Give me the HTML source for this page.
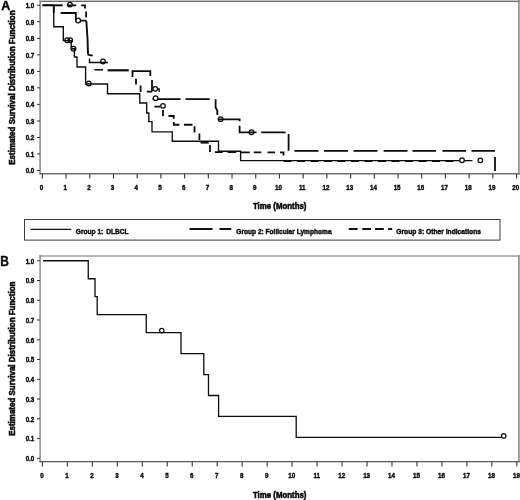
<!DOCTYPE html>
<html><head><meta charset="utf-8"><title>Figure</title>
<style>html,body{margin:0;padding:0;background:#fff;}body{width:520px;height:500px;overflow:hidden;font-family:"Liberation Sans",sans-serif;}svg{display:block;will-change:transform;}text{font-family:"Liberation Sans",sans-serif;font-weight:bold;fill:#0a0a0a;stroke:#0a0a0a;stroke-width:0.45px;}</style>
</head><body>
<svg width="520" height="500" viewBox="0 0 520 500">
<rect x="0" y="0" width="520" height="500" fill="#fff"/>
<rect x="39.4" y="0" width="480.6" height="1" fill="#c4c4c4"/><rect x="39.4" y="1" width="480.6" height="1" fill="#6a6a6a"/>
<path d="M518.9,0 V174.5" stroke="#8a8a8a" stroke-width="1.6" fill="none"/>
<path d="M40.1,0.8 V174.5" stroke="#858585" stroke-width="1.5" fill="none"/>
<path d="M39.4,173.8 H519.6" stroke="#707070" stroke-width="1.5" fill="none"/>
<path d="M39.5,256 H519.6" stroke="#707070" stroke-width="1.1" fill="none"/>
<path d="M518.9,255 V462.2" stroke="#8a8a8a" stroke-width="1.6" fill="none"/>
<path d="M40.1,255.3 V462.2" stroke="#7a7a7a" stroke-width="1.3" fill="none"/>
<path d="M39.5,461.6 H519.6" stroke="#5a5a5a" stroke-width="1.3" fill="none"/>
<path d="M37,170.50 H40" stroke="#333" stroke-width="1"/>
<text transform="translate(34.30,173.25) scale(0.82,1)" font-size="7.6" text-anchor="end" >0.0</text>
<path d="M37,153.97 H40" stroke="#333" stroke-width="1"/>
<text transform="translate(34.30,156.72) scale(0.82,1)" font-size="7.6" text-anchor="end" >0.1</text>
<path d="M37,137.45 H40" stroke="#333" stroke-width="1"/>
<text transform="translate(34.30,140.20) scale(0.82,1)" font-size="7.6" text-anchor="end" >0.2</text>
<path d="M37,120.92 H40" stroke="#333" stroke-width="1"/>
<text transform="translate(34.30,123.67) scale(0.82,1)" font-size="7.6" text-anchor="end" >0.3</text>
<path d="M37,104.40 H40" stroke="#333" stroke-width="1"/>
<text transform="translate(34.30,107.15) scale(0.82,1)" font-size="7.6" text-anchor="end" >0.4</text>
<path d="M37,87.88 H40" stroke="#333" stroke-width="1"/>
<text transform="translate(34.30,90.62) scale(0.82,1)" font-size="7.6" text-anchor="end" >0.5</text>
<path d="M37,71.35 H40" stroke="#333" stroke-width="1"/>
<text transform="translate(34.30,74.10) scale(0.82,1)" font-size="7.6" text-anchor="end" >0.6</text>
<path d="M37,54.83 H40" stroke="#333" stroke-width="1"/>
<text transform="translate(34.30,57.58) scale(0.82,1)" font-size="7.6" text-anchor="end" >0.7</text>
<path d="M37,38.30 H40" stroke="#333" stroke-width="1"/>
<text transform="translate(34.30,41.05) scale(0.82,1)" font-size="7.6" text-anchor="end" >0.8</text>
<path d="M37,21.77 H40" stroke="#333" stroke-width="1"/>
<text transform="translate(34.30,24.52) scale(0.82,1)" font-size="7.6" text-anchor="end" >0.9</text>
<path d="M37,5.25 H40" stroke="#333" stroke-width="1"/>
<text transform="translate(34.30,8.00) scale(0.82,1)" font-size="7.6" text-anchor="end" >1.0</text>
<path d="M42.35,174 V178.4" stroke="#333" stroke-width="1.1"/>
<text transform="translate(41.45,189.75) scale(0.82,1)" font-size="7.6" text-anchor="middle" >0</text>
<path d="M66.06,174 V178.4" stroke="#333" stroke-width="1.1"/>
<text transform="translate(65.16,189.75) scale(0.82,1)" font-size="7.6" text-anchor="middle" >1</text>
<path d="M89.77,174 V178.4" stroke="#333" stroke-width="1.1"/>
<text transform="translate(88.87,189.75) scale(0.82,1)" font-size="7.6" text-anchor="middle" >2</text>
<path d="M113.48,174 V178.4" stroke="#333" stroke-width="1.1"/>
<text transform="translate(112.58,189.75) scale(0.82,1)" font-size="7.6" text-anchor="middle" >3</text>
<path d="M137.19,174 V178.4" stroke="#333" stroke-width="1.1"/>
<text transform="translate(136.29,189.75) scale(0.82,1)" font-size="7.6" text-anchor="middle" >4</text>
<path d="M160.90,174 V178.4" stroke="#333" stroke-width="1.1"/>
<text transform="translate(160.00,189.75) scale(0.82,1)" font-size="7.6" text-anchor="middle" >5</text>
<path d="M184.61,174 V178.4" stroke="#333" stroke-width="1.1"/>
<text transform="translate(183.71,189.75) scale(0.82,1)" font-size="7.6" text-anchor="middle" >6</text>
<path d="M208.32,174 V178.4" stroke="#333" stroke-width="1.1"/>
<text transform="translate(207.42,189.75) scale(0.82,1)" font-size="7.6" text-anchor="middle" >7</text>
<path d="M232.03,174 V178.4" stroke="#333" stroke-width="1.1"/>
<text transform="translate(231.13,189.75) scale(0.82,1)" font-size="7.6" text-anchor="middle" >8</text>
<path d="M255.74,174 V178.4" stroke="#333" stroke-width="1.1"/>
<text transform="translate(254.84,189.75) scale(0.82,1)" font-size="7.6" text-anchor="middle" >9</text>
<path d="M279.45,174 V178.4" stroke="#333" stroke-width="1.1"/>
<text transform="translate(278.55,189.75) scale(0.82,1)" font-size="7.6" text-anchor="middle" >10</text>
<path d="M303.16,174 V178.4" stroke="#333" stroke-width="1.1"/>
<text transform="translate(302.26,189.75) scale(0.82,1)" font-size="7.6" text-anchor="middle" >11</text>
<path d="M326.87,174 V178.4" stroke="#333" stroke-width="1.1"/>
<text transform="translate(325.97,189.75) scale(0.82,1)" font-size="7.6" text-anchor="middle" >12</text>
<path d="M350.58,174 V178.4" stroke="#333" stroke-width="1.1"/>
<text transform="translate(349.68,189.75) scale(0.82,1)" font-size="7.6" text-anchor="middle" >13</text>
<path d="M374.29,174 V178.4" stroke="#333" stroke-width="1.1"/>
<text transform="translate(373.39,189.75) scale(0.82,1)" font-size="7.6" text-anchor="middle" >14</text>
<path d="M398.00,174 V178.4" stroke="#333" stroke-width="1.1"/>
<text transform="translate(397.10,189.75) scale(0.82,1)" font-size="7.6" text-anchor="middle" >15</text>
<path d="M421.71,174 V178.4" stroke="#333" stroke-width="1.1"/>
<text transform="translate(420.81,189.75) scale(0.82,1)" font-size="7.6" text-anchor="middle" >16</text>
<path d="M445.42,174 V178.4" stroke="#333" stroke-width="1.1"/>
<text transform="translate(444.52,189.75) scale(0.82,1)" font-size="7.6" text-anchor="middle" >17</text>
<path d="M469.13,174 V178.4" stroke="#333" stroke-width="1.1"/>
<text transform="translate(468.23,189.75) scale(0.82,1)" font-size="7.6" text-anchor="middle" >18</text>
<path d="M492.84,174 V178.4" stroke="#333" stroke-width="1.1"/>
<text transform="translate(491.94,189.75) scale(0.82,1)" font-size="7.6" text-anchor="middle" >19</text>
<path d="M516.55,174 V178.4" stroke="#333" stroke-width="1.1"/>
<text transform="translate(515.65,189.75) scale(0.82,1)" font-size="7.6" text-anchor="middle" >20</text>
<path d="M37,458.35 H40" stroke="#333" stroke-width="1"/>
<text transform="translate(34.30,461.10) scale(0.82,1)" font-size="7.6" text-anchor="end" >0.0</text>
<path d="M37,438.59 H40" stroke="#333" stroke-width="1"/>
<text transform="translate(34.30,441.34) scale(0.82,1)" font-size="7.6" text-anchor="end" >0.1</text>
<path d="M37,418.83 H40" stroke="#333" stroke-width="1"/>
<text transform="translate(34.30,421.58) scale(0.82,1)" font-size="7.6" text-anchor="end" >0.2</text>
<path d="M37,399.07 H40" stroke="#333" stroke-width="1"/>
<text transform="translate(34.30,401.82) scale(0.82,1)" font-size="7.6" text-anchor="end" >0.3</text>
<path d="M37,379.31 H40" stroke="#333" stroke-width="1"/>
<text transform="translate(34.30,382.06) scale(0.82,1)" font-size="7.6" text-anchor="end" >0.4</text>
<path d="M37,359.55 H40" stroke="#333" stroke-width="1"/>
<text transform="translate(34.30,362.30) scale(0.82,1)" font-size="7.6" text-anchor="end" >0.5</text>
<path d="M37,339.79 H40" stroke="#333" stroke-width="1"/>
<text transform="translate(34.30,342.54) scale(0.82,1)" font-size="7.6" text-anchor="end" >0.6</text>
<path d="M37,320.03 H40" stroke="#333" stroke-width="1"/>
<text transform="translate(34.30,322.78) scale(0.82,1)" font-size="7.6" text-anchor="end" >0.7</text>
<path d="M37,300.27 H40" stroke="#333" stroke-width="1"/>
<text transform="translate(34.30,303.02) scale(0.82,1)" font-size="7.6" text-anchor="end" >0.8</text>
<path d="M37,280.51 H40" stroke="#333" stroke-width="1"/>
<text transform="translate(34.30,283.26) scale(0.82,1)" font-size="7.6" text-anchor="end" >0.9</text>
<path d="M37,260.75 H40" stroke="#333" stroke-width="1"/>
<text transform="translate(34.30,263.50) scale(0.82,1)" font-size="7.6" text-anchor="end" >1.0</text>
<path d="M42.40,462 V466.4" stroke="#333" stroke-width="1.1"/>
<text transform="translate(42.00,478.20) scale(0.82,1)" font-size="7.6" text-anchor="middle" >0</text>
<path d="M67.37,462 V466.4" stroke="#333" stroke-width="1.1"/>
<text transform="translate(66.97,478.20) scale(0.82,1)" font-size="7.6" text-anchor="middle" >1</text>
<path d="M92.34,462 V466.4" stroke="#333" stroke-width="1.1"/>
<text transform="translate(91.94,478.20) scale(0.82,1)" font-size="7.6" text-anchor="middle" >2</text>
<path d="M117.31,462 V466.4" stroke="#333" stroke-width="1.1"/>
<text transform="translate(116.91,478.20) scale(0.82,1)" font-size="7.6" text-anchor="middle" >3</text>
<path d="M142.28,462 V466.4" stroke="#333" stroke-width="1.1"/>
<text transform="translate(141.88,478.20) scale(0.82,1)" font-size="7.6" text-anchor="middle" >4</text>
<path d="M167.25,462 V466.4" stroke="#333" stroke-width="1.1"/>
<text transform="translate(166.85,478.20) scale(0.82,1)" font-size="7.6" text-anchor="middle" >5</text>
<path d="M192.22,462 V466.4" stroke="#333" stroke-width="1.1"/>
<text transform="translate(191.82,478.20) scale(0.82,1)" font-size="7.6" text-anchor="middle" >6</text>
<path d="M217.19,462 V466.4" stroke="#333" stroke-width="1.1"/>
<text transform="translate(216.79,478.20) scale(0.82,1)" font-size="7.6" text-anchor="middle" >7</text>
<path d="M242.16,462 V466.4" stroke="#333" stroke-width="1.1"/>
<text transform="translate(241.76,478.20) scale(0.82,1)" font-size="7.6" text-anchor="middle" >8</text>
<path d="M267.13,462 V466.4" stroke="#333" stroke-width="1.1"/>
<text transform="translate(266.73,478.20) scale(0.82,1)" font-size="7.6" text-anchor="middle" >9</text>
<path d="M292.10,462 V466.4" stroke="#333" stroke-width="1.1"/>
<text transform="translate(291.70,478.20) scale(0.82,1)" font-size="7.6" text-anchor="middle" >10</text>
<path d="M317.07,462 V466.4" stroke="#333" stroke-width="1.1"/>
<text transform="translate(316.67,478.20) scale(0.82,1)" font-size="7.6" text-anchor="middle" >11</text>
<path d="M342.04,462 V466.4" stroke="#333" stroke-width="1.1"/>
<text transform="translate(341.64,478.20) scale(0.82,1)" font-size="7.6" text-anchor="middle" >12</text>
<path d="M367.01,462 V466.4" stroke="#333" stroke-width="1.1"/>
<text transform="translate(366.61,478.20) scale(0.82,1)" font-size="7.6" text-anchor="middle" >13</text>
<path d="M391.98,462 V466.4" stroke="#333" stroke-width="1.1"/>
<text transform="translate(391.58,478.20) scale(0.82,1)" font-size="7.6" text-anchor="middle" >14</text>
<path d="M416.95,462 V466.4" stroke="#333" stroke-width="1.1"/>
<text transform="translate(416.55,478.20) scale(0.82,1)" font-size="7.6" text-anchor="middle" >15</text>
<path d="M441.92,462 V466.4" stroke="#333" stroke-width="1.1"/>
<text transform="translate(441.52,478.20) scale(0.82,1)" font-size="7.6" text-anchor="middle" >16</text>
<path d="M466.89,462 V466.4" stroke="#333" stroke-width="1.1"/>
<text transform="translate(466.49,478.20) scale(0.82,1)" font-size="7.6" text-anchor="middle" >17</text>
<path d="M491.86,462 V466.4" stroke="#333" stroke-width="1.1"/>
<text transform="translate(491.46,478.20) scale(0.82,1)" font-size="7.6" text-anchor="middle" >18</text>
<path d="M516.83,462 V466.4" stroke="#333" stroke-width="1.1"/>
<text transform="translate(516.43,478.20) scale(0.82,1)" font-size="7.6" text-anchor="middle" >19</text>
<text transform="translate(279.70,209.10) scale(0.925,1)" font-size="8.5" text-anchor="middle" style="stroke-width:0.55px">Time (Months)</text>
<text transform="translate(279.70,497.60) scale(0.925,1)" font-size="8.5" text-anchor="middle" style="stroke-width:0.55px">Time (Months)</text>
<text transform="translate(14.9,164.7) rotate(-90) scale(0.94,1)" font-size="8.5" text-anchor="start" style="stroke-width:0.55px">Estimated Survival Distribution Function</text>
<text transform="translate(14.9,435.8) rotate(-90) scale(0.94,1)" font-size="8.5" text-anchor="start" style="stroke-width:0.55px">Estimated Survival Distribution Function</text>
<text x="1.2" y="9.8" font-size="12.5" style="font-weight:bold;stroke-width:0.45px">A</text>
<text transform="translate(0.3,265.5) scale(0.85,1)" font-size="14" style="font-weight:bold;stroke-width:0.4px">B</text>
<rect x="24.5" y="219.5" width="475.5" height="20.6" fill="#fff" stroke="#3c3c3c" stroke-width="1"/>
<path d="M30.5,229.4 H71.3" stroke="#111" stroke-width="1.2"/>
<text transform="translate(75.80,233.65) scale(0.857,1)" font-size="7.7" text-anchor="start" >Group 1: <tspan dx="1.3">DLBCL</tspan></text>
<path d="M189.5,228.9 H212.5 M219.5,228.9 H231.3" stroke="#111" stroke-width="2.0"/>
<text transform="translate(236.30,233.65) scale(0.857,1)" font-size="7.7" text-anchor="start" >Group 2: Follicular Lymphoma</text>
<path d="M348.8,229.1 H357.6 M362.3,229.1 H371 M375.1,229.1 H383.8 M388.1,229.1 H392.2" stroke="#111" stroke-width="2.0"/>
<text transform="translate(396.30,233.65) scale(0.87,1)" font-size="7.7" text-anchor="start" >Group 3: Other Indications</text>
<path d="M42.5,5.25 H53.75 V26.7 H63.3 V40.6 H71.25 V48.75 H74.4 V57 H77 V67 H85.6 V84 H107.5 V93.75 H139.75 V103 H146.7 V113 H148.8 V121.6 H152 V131.8 H172.25 V141.25 H218.5 V151.25 H240.6 V160.6 H472.5" fill="none" stroke="#0c0c0c" stroke-width="1.35" stroke-linejoin="miter"/>
<path d="M42.5,5.3 H62.7" fill="none" stroke="#0c0c0c" stroke-width="2.0"/>
<path d="M66.8,5.3 H76.2 M81.2,5.4 H85 V8.5 M86.1,11.5 V17.4" fill="none" stroke="#0c0c0c" stroke-width="1.8"/>
<path d="M53.75,5.25 V13 M60.6,13 H75.8 V20.7 H86.4" fill="none" stroke="#0c0c0c" stroke-width="1.8"/>
<path d="M86.3,20.8 L87.6,40 L88,54.3" fill="none" stroke="#0c0c0c" stroke-width="1.9"/>
<path d="M87.6,54.6 L92.8,55.6" fill="none" stroke="#0c0c0c" stroke-width="1.7"/>
<path d="M89.5,58.5 V62.5 H108" fill="none" stroke="#0c0c0c" stroke-width="1.4"/>
<path d="M94.4,69.8 H103" fill="none" stroke="#0c0c0c" stroke-width="1.5"/>
<path d="M107.5,70.3 H128.75" fill="none" stroke="#0c0c0c" stroke-width="2.2"/>
<path d="M132.5,77 V71.2 H150.3 V76" fill="none" stroke="#0c0c0c" stroke-width="1.8"/>
<path d="M136,78.75 V84.4 M140.6,85.6 V92 M146.8,91.6 H152" fill="none" stroke="#0c0c0c" stroke-width="1.8"/>
<path d="M152,80 V91.6" fill="none" stroke="#0c0c0c" stroke-width="1.8"/>
<path d="M157.5,89 H159.2 V92" fill="none" stroke="#0c0c0c" stroke-width="1.3"/>
<path d="M152.4,98.9 H154 M158,99.2 H180.6 M185.6,99.2 H209.75" fill="none" stroke="#0c0c0c" stroke-width="1.8"/>
<path d="M215.6,99.2 V107.5 L217.3,110.5 V115" fill="none" stroke="#0c0c0c" stroke-width="1.8"/>
<path d="M218.4,119.3 H239.6 V121.25 M239.6,125.8 V132.3 H256.5 M261.25,132.3 H285.6 M288.6,134 V150.8" fill="none" stroke="#0c0c0c" stroke-width="1.8"/>
<path d="M294.4,150.9 H318.4 M324,150.9 H348 M353.6,150.9 H377.5 M383.6,150.9 H407.5 M412.5,150.9 H436 M442.5,150.9 H466 M471.5,150.9 H495" fill="none" stroke="#0c0c0c" stroke-width="1.8"/>
<path d="M495,157 V171" fill="none" stroke="#0c0c0c" stroke-width="1.8"/>
<path d="M154.4,106.6 H160.5 M163,110 V116.25 M168.5,116 H173.75 V118.75 M173.75,122 V124.75 H179.4 M184,124.75 H192.5 M194.5,126.25 V132.5 M199.4,133.5 V140" fill="none" stroke="#0c0c0c" stroke-width="1.8"/>
<path d="M200.6,142.6 H208.75" fill="none" stroke="#0c0c0c" stroke-width="2.0"/>
<path d="M210,145 V152" fill="none" stroke="#0c0c0c" stroke-width="1.8"/>
<path d="M215,152.1 H222.75 M227.5,152.1 H236.25" fill="none" stroke="#0c0c0c" stroke-width="1.9"/>
<path d="M240,152.4 H249.8 M253.75,152.4 H261.25 M267.5,152.4 H275 M280,152.4 H283.5 V155.6" fill="none" stroke="#0c0c0c" stroke-width="1.8"/>
<path d="M283.5,161.2 H454" fill="none" stroke="#0c0c0c" stroke-width="1.5" stroke-dasharray="8 5.5"/>
<circle cx="67.1" cy="40.2" r="2.3" fill="none" stroke="#0c0c0c" stroke-width="1.25"/>
<circle cx="70.2" cy="40.2" r="2.3" fill="none" stroke="#0c0c0c" stroke-width="1.25"/>
<circle cx="73.5" cy="48.75" r="2.3" fill="none" stroke="#0c0c0c" stroke-width="1.25"/>
<circle cx="88.75" cy="83.5" r="2.3" fill="none" stroke="#0c0c0c" stroke-width="1.25"/>
<circle cx="70" cy="4.6" r="2.3" fill="none" stroke="#0c0c0c" stroke-width="1.25"/>
<circle cx="103" cy="61.5" r="2.3" fill="none" stroke="#0c0c0c" stroke-width="1.25"/>
<circle cx="220.6" cy="119.2" r="2.3" fill="none" stroke="#0c0c0c" stroke-width="1.25"/>
<circle cx="251.5" cy="132.2" r="2.3" fill="none" stroke="#0c0c0c" stroke-width="1.25"/>
<circle cx="78.2" cy="20.5" r="2.3" fill="#fff" stroke="#0c0c0c" stroke-width="1.25"/>
<circle cx="155.2" cy="88.8" r="2.3" fill="#fff" stroke="#0c0c0c" stroke-width="1.25"/>
<circle cx="155.6" cy="98.2" r="2.3" fill="#fff" stroke="#0c0c0c" stroke-width="1.25"/>
<circle cx="163" cy="105.8" r="2.3" fill="#fff" stroke="#0c0c0c" stroke-width="1.25"/>
<circle cx="462" cy="160.2" r="2.3" fill="#fff" stroke="#0c0c0c" stroke-width="1.25"/>
<circle cx="480.3" cy="160.3" r="2.3" fill="#fff" stroke="#0c0c0c" stroke-width="1.25"/>
<path d="M43,260.75 H88.25 V278.73 H95 V296.71 H97.2 V314.69 H146.25 V332.68 H181 V353.62 H203.8 V374.57 H208.5 V395.51 H218.6 V416.46 H296.2 V437.40 H501.5" fill="none" stroke="#0c0c0c" stroke-width="1.3" stroke-linejoin="miter"/>
<circle cx="161.75" cy="330.6" r="2.2" fill="none" stroke="#0c0c0c" stroke-width="1.2"/>
<circle cx="503.75" cy="435.9" r="2.2" fill="none" stroke="#0c0c0c" stroke-width="1.2"/>
</svg>
</body></html>
